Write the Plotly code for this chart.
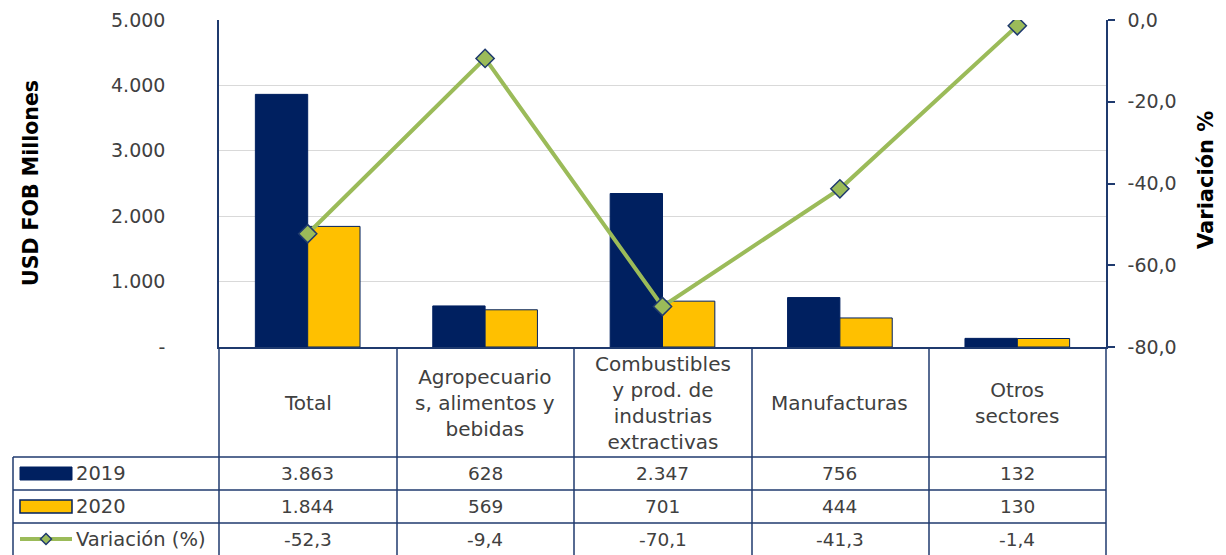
import plotly.graph_objects as go

categories = ["Total", "Agropecuarios, alimentos y bebidas",
              "Combustibles y prod. de industrias extractivas",
              "Manufacturas", "Otros sectores"]
cat_labels = ["Total", "Agropecuario<br>s, alimentos y<br>bebidas",
              "Combustibles<br>y prod. de<br>industrias<br>extractivas",
              "Manufacturas", "Otros<br>sectores"]
v2019 = [3863, 628, 2347, 756, 132]
v2020 = [1844, 569, 701, 444, 130]
variacion = [-52.3, -9.4, -70.1, -41.3, -1.4]
series_names = ["2019", "2020", "Variación (%)"]
left_ticks = [0, 1000, 2000, 3000, 4000, 5000]
left_ticktext = ["-", "1.000", "2.000", "3.000", "4.000", "5.000"]
right_ticks = [-80, -60, -40, -20, 0]
right_ticktext = ["-80,0", "-60,0", "-40,0", "-20,0", "0,0"]

NAVY = "#002060"
GOLD = "#FFC000"
GREEN = "#9BBB59"
LINEC = "#1F3A6E"
TXT = "#404040"
FONT = "DejaVu Sans"
OFF = 8  # page body margin
W, H = 1226 - OFF, 555 - OFF

def py(p):
    return (H - (p - OFF)) / H

def px_x(p):
    return (p - OFF) / W

fig = go.Figure()
fig.add_trace(go.Bar(x=categories, y=v2019, name=series_names[0],
                     marker=dict(color=NAVY, line=dict(color=NAVY, width=1))))
fig.add_trace(go.Bar(x=categories, y=v2020, name=series_names[1],
                     marker=dict(color=GOLD, line=dict(color=NAVY, width=1))))
fig.add_trace(go.Scatter(x=categories, y=variacion, name=series_names[2], yaxis="y2",
                         mode="lines+markers",
                         line=dict(color=GREEN, width=4),
                         marker=dict(symbol="diamond", size=14, color=GREEN,
                                     line=dict(color=LINEC, width=1.5))))

x0, x1 = 219, 1106
ytop, ybot = 20, 347
fig.update_layout(
    width=W, height=H,
    margin=dict(l=0, r=0, t=0, b=0, autoexpand=False),
    paper_bgcolor="white", plot_bgcolor="white",
    separators=",.",
    showlegend=False,
    barmode="group", bargap=0.41, bargroupgap=0,
    font=dict(family=FONT, color=TXT, size=18),
    xaxis=dict(domain=[px_x(x0), px_x(x1)], showticklabels=False, ticks="",
               showline=True, linecolor=LINEC, linewidth=1.5, showgrid=False,
               automargin=False,
               categoryorder="array", categoryarray=categories, fixedrange=True),
    yaxis=dict(domain=[py(ybot), py(ytop)], range=[0, 5000],
               tickvals=left_ticks, ticktext=left_ticktext,
               tickfont=dict(size=19, color=TXT, family=FONT),
               ticklabelstandoff=48, automargin=False,
               showgrid=True, gridcolor="#D9D9D9", gridwidth=1,
               showline=True, linecolor=LINEC, linewidth=1.5, zeroline=False),
    yaxis2=dict(overlaying="y", side="right", range=[-80, 0],
                tickvals=right_ticks, ticktext=right_ticktext,
                showgrid=False, zeroline=False, automargin=False,
                showline=True, linecolor=LINEC, linewidth=1.5,
                ticks="outside", ticklen=7, tickcolor=LINEC, tickwidth=1.5,
                ticklabelstandoff=9,
                tickfont=dict(size=19, color=TXT, family=FONT)),
)

shapes = []
line_style = dict(color=LINEC, width=1.5)
for xv in [219, 397, 574, 752, 929, 1106]:
    shapes.append(dict(type="line", xref="paper", yref="paper",
                       x0=px_x(xv), x1=px_x(xv), y0=py(347), y1=py(555), line=line_style))
shapes.append(dict(type="line", xref="paper", yref="paper",
                   x0=px_x(13), x1=px_x(13), y0=py(457), y1=py(555), line=line_style))
for yv in [457, 490, 523]:
    shapes.append(dict(type="line", xref="paper", yref="paper",
                       x0=px_x(13), x1=px_x(1106), y0=py(yv), y1=py(yv), line=line_style))

row_centers = [473.5, 506.5, 539]
shapes.append(dict(type="rect", xref="paper", yref="paper",
                   x0=px_x(20), x1=px_x(72), y0=py(480), y1=py(467),
                   fillcolor=NAVY, line=dict(color=NAVY, width=1)))
shapes.append(dict(type="rect", xref="paper", yref="paper",
                   x0=px_x(20), x1=px_x(72), y0=py(513), y1=py(500),
                   fillcolor=GOLD, line=dict(color=NAVY, width=1.5)))
shapes.append(dict(type="line", xref="paper", yref="paper",
                   x0=px_x(20), x1=px_x(72), y0=py(539), y1=py(539),
                   line=dict(color=GREEN, width=4)))
cx, cy, r = 46, 539, 5.5
shapes.append(dict(type="path", xref="paper", yref="paper",
                   path=f"M {px_x(cx-r)} {py(cy)} L {px_x(cx)} {py(cy-r)} L {px_x(cx+r)} {py(cy)} L {px_x(cx)} {py(cy+r)} Z",
                   fillcolor=GREEN, line=dict(color=LINEC, width=1.5)))
fig.update_layout(shapes=shapes)

ann = []
ann.append(dict(x=px_x(31), xref="paper", y=py(183), yref="paper",
                text="<b>USD FOB Millones</b>", textangle=-90, showarrow=False,
                xanchor="center", yanchor="middle",
                font=dict(size=20.5, color="#000000", family=FONT)))
ann.append(dict(x=px_x(1206), xref="paper", y=py(180), yref="paper",
                text="<b>Variación %</b>", textangle=-90, showarrow=False,
                xanchor="center", yanchor="middle",
                font=dict(size=21, color="#000000", family=FONT)))
for c, lab in zip(categories, cat_labels):
    ann.append(dict(x=c, xref="x", y=py(403), yref="paper", text=lab, showarrow=False,
                    font=dict(size=20, color=TXT, family=FONT), align="center",
                    xanchor="center", yanchor="middle"))
rows = [
    [f"{v:,}".replace(",", ".") for v in v2019],
    [f"{v:,}".replace(",", ".") for v in v2020],
    [f"{v:.1f}".replace(".", ",") for v in variacion],
]
for rvals, yc, nm in zip(rows, row_centers, series_names):
    ann.append(dict(x=px_x(74), xref="paper", y=py(yc), yref="paper", text=nm,
                    showarrow=False, xanchor="left", yanchor="middle",
                    font=dict(size=19.5, color=TXT, family=FONT)))
    for c, t in zip(categories, rvals):
        ann.append(dict(x=c, xref="x", y=py(yc), yref="paper", text=t, showarrow=False,
                        xanchor="center", yanchor="middle",
                        font=dict(size=18.5, color=TXT, family=FONT)))
fig.update_layout(annotations=ann)

fig.write_html("out.html")
